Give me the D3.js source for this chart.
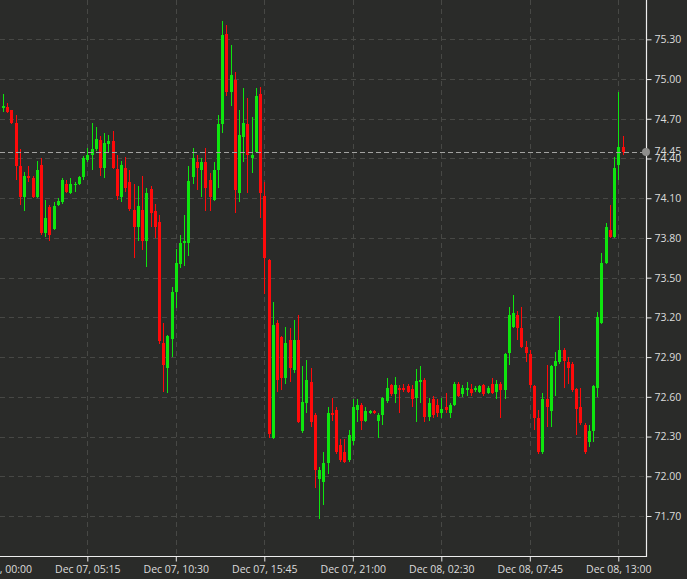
<!DOCTYPE html>
<html>
<head>
<meta charset="utf-8">
<script src="https://cdn.jsdelivr.net/npm/d3@7"></script>
<style>
html,body{margin:0;padding:0;background:#2a2b29;}
svg{display:block;}
</style>
</head>
<body>
<div id="chart"></div>
<script>
// 15-minute candles, index 1..148 (Dec 07 00:15 .. Dec 08 13:15)
const open = [74.78,74.79,74.77,74.67,74.34,74.11,74.27,74.25,74.11,74.35,
73.84,74.03,73.87,74.05,74.07,74.21,74.14,74.20,74.21,74.26,
74.39,74.43,74.47,74.54,74.33,74.51,74.53,74.32,74.11,74.33,
74.22,74.01,73.88,74.01,73.78,74.17,74.00,73.92,73.01,72.82,
73.04,73.39,73.60,73.76,73.76,74.26,74.37,74.31,74.37,74.24,
74.09,74.31,74.66,75.34,74.90,74.99,74.14,74.56,74.66,74.40,
74.45,74.89,74.12,73.63,72.29,73.16,73.05,72.74,73.03,72.80,
73.03,72.34,72.55,72.71,72.46,71.98,71.96,72.10,72.48,72.50,
72.24,72.18,72.12,72.27,72.50,72.54,72.42,72.48,72.49,72.42,
72.46,72.57,72.69,72.62,72.67,72.67,72.68,72.66,72.59,72.71,
72.73,72.45,72.58,72.54,72.48,72.52,72.48,72.54,72.70,72.62,
72.65,72.66,72.65,72.64,72.69,72.63,72.70,72.64,72.70,72.65,
72.93,73.13,73.22,73.12,72.98,72.92,72.68,72.44,72.18,72.58,
72.49,72.83,72.86,72.95,72.86,72.85,72.66,72.52,72.39,72.26,
72.34,72.67,73.16,73.61,73.86,73.81,74.35,74.49];
const close = [74.80,74.75,74.67,74.34,74.11,74.27,74.25,74.11,74.31,73.84,
73.95,73.82,74.04,74.08,74.24,74.15,74.21,74.21,74.26,74.40,
74.43,74.47,74.55,74.33,74.52,74.53,74.33,74.12,74.35,74.18,
74.02,73.88,74.04,73.78,74.14,73.99,73.88,73.02,72.84,73.06,
73.39,73.61,73.76,73.78,74.23,74.40,74.33,74.37,74.18,74.11,
74.31,74.66,75.33,74.90,75.03,74.16,74.58,74.67,74.43,74.43,
74.87,74.14,73.65,72.32,73.14,72.73,72.74,73.01,72.82,73.03,
72.41,72.56,72.73,72.41,72.05,72.05,72.10,72.48,72.46,72.18,
72.12,72.11,72.31,72.52,72.54,72.42,72.49,72.49,72.48,72.46,
72.59,72.67,72.62,72.69,72.65,72.65,72.64,72.58,72.72,72.73,
72.45,72.55,72.46,72.48,72.51,72.50,72.54,72.70,72.61,72.67,
72.67,72.63,72.67,72.68,72.62,72.67,72.63,72.70,72.65,72.92,
73.22,73.23,73.12,72.98,72.93,72.69,72.44,72.18,72.58,72.52,
72.83,72.87,72.95,72.87,72.82,72.65,72.51,72.40,72.18,72.34,
72.68,73.20,73.61,73.88,73.81,74.33,74.49,74.45];
const high = [74.89,74.82,74.77,74.73,74.47,74.30,74.34,74.27,74.38,74.40,
74.09,74.05,74.07,74.10,74.25,74.24,74.25,74.22,74.27,74.42,
74.48,74.67,74.64,74.57,74.59,74.58,74.61,74.43,74.38,74.41,
74.31,74.21,74.19,74.27,74.18,74.19,74.06,73.97,73.16,73.07,
73.43,73.72,73.82,73.97,74.34,74.48,74.43,74.40,74.48,74.29,
74.37,74.73,75.44,75.41,75.26,75.05,74.77,74.93,74.86,74.71,
74.93,74.94,74.22,73.64,73.32,73.18,73.06,73.13,73.12,73.18,
73.22,72.83,72.88,72.82,72.48,72.07,72.18,72.52,72.59,72.52,
72.28,72.28,72.35,72.58,72.58,72.55,72.52,72.50,72.50,72.48,
72.60,72.74,72.70,72.75,72.69,72.70,72.70,72.69,72.81,72.83,
72.74,72.59,72.61,72.58,72.59,72.63,72.55,72.71,72.71,72.69,
72.71,72.70,72.68,72.69,72.70,72.68,72.74,72.73,72.71,72.93,
73.28,73.37,73.25,73.28,73.02,72.95,72.69,72.50,72.63,72.84,
72.84,72.94,73.21,72.97,72.90,72.86,72.67,72.67,72.40,72.39,
72.69,73.24,73.69,73.91,74.05,74.41,74.90,74.57];
const low = [74.75,74.74,74.66,74.24,74.05,74.00,74.22,74.10,74.10,73.82,
73.81,73.78,73.86,74.04,74.06,74.14,74.13,74.15,74.20,74.24,
74.37,74.31,74.46,74.27,74.25,74.44,74.32,74.09,74.07,74.15,
74.00,73.65,73.78,73.71,73.58,73.88,73.80,73.00,72.64,72.63,
72.90,73.27,73.57,73.59,73.66,74.21,74.16,74.11,74.00,74.00,
74.08,74.18,74.59,74.87,74.80,73.99,74.07,74.37,74.14,74.29,
74.44,73.95,73.38,72.29,72.28,72.64,72.65,72.70,72.71,72.78,
72.40,72.33,72.48,72.37,71.91,71.68,71.78,72.02,72.42,72.17,
72.11,72.10,72.11,72.24,72.41,72.35,72.41,72.47,72.47,72.29,
72.39,72.55,72.61,72.55,72.48,72.64,72.63,72.52,72.41,72.55,
72.41,72.42,72.44,72.45,72.44,72.48,72.44,72.53,72.60,72.60,
72.61,72.61,72.64,72.63,72.61,72.62,72.62,72.58,72.44,72.58,
72.84,73.12,73.03,72.97,72.86,72.67,72.35,72.17,72.17,72.37,
72.37,72.61,72.85,72.67,72.70,72.64,72.31,72.39,72.17,72.22,
72.26,72.60,73.15,73.60,73.80,73.80,74.24,74.43];

const tickIndex = [0,21,42,63,84,105,126,147];
const tickLabels = ["Dec 07, 00:00","Dec 07, 05:15","Dec 07, 10:30","Dec 07, 15:45",
                    "Dec 07, 21:00","Dec 08, 02:30","Dec 08, 07:45","Dec 08, 13:00"];
const priceTicks = [71.70,72.00,72.30,72.60,72.90,73.20,73.50,73.80,74.10,74.40,74.70,75.00,75.30];
const lastPrice = 74.45;

const W = 687, H = 579;
const plotR = 646, plotB = 556;
const UP = "#0ee60e", DOWN = "#ff0a0a";
const FONT = "'Open Sans', 'Noto Sans', sans-serif";

const svg = d3.select("#chart").append("svg").attr("width", W).attr("height", H)
  .style("background", "#2a2b29");

const x = d3.scaleLinear().domain([0, 147]).range([-1.2, 618.3]);
const y = d3.scaleLinear().domain([71.398, 75.597]).range([plotB, 0]);

const data = open.map((o, i) => ({i: i + 1, o, c: close[i], h: high[i], l: low[i]}));

// grid
const grid = svg.append("g").attr("stroke", "#474845").attr("stroke-width", 1)
  .attr("stroke-dasharray", "5,4").attr("shape-rendering", "crispEdges");
grid.selectAll("line.h").data(priceTicks).join("line").attr("class", "h")
  .attr("x1", 0).attr("x2", plotR).attr("y1", d => Math.round(y(d)) + 0.5).attr("y2", d => Math.round(y(d)) + 0.5);
grid.selectAll("line.v").data(tickIndex).join("line").attr("class", "v")
  .attr("y1", 0).attr("y2", plotB).attr("x1", d => Math.round(x(d)) + 0.5).attr("x2", d => Math.round(x(d)) + 0.5);

// candles
const cg = svg.append("g").attr("shape-rendering", "crispEdges");
const candle = cg.selectAll("g").data(data).join("g");
candle.append("line")
  .attr("x1", d => Math.round(x(d.i)) + 0.5).attr("x2", d => Math.round(x(d.i)) + 0.5)
  .attr("y1", d => y(d.h)).attr("y2", d => y(d.l))
  .attr("stroke", d => d.c >= d.o ? UP : DOWN).attr("stroke-width", 1);
candle.append("rect")
  .attr("x", d => Math.round(x(d.i)) - 1)
  .attr("width", 3)
  .attr("y", d => y(Math.max(d.o, d.c)))
  .attr("height", d => Math.max(1.2, Math.abs(y(d.o) - y(d.c))))
  .attr("fill", d => d.c >= d.o ? UP : DOWN);

// last price line
svg.append("line").attr("x1", 0).attr("x2", plotR)
  .attr("y1", Math.round(y(lastPrice)) + 0.5).attr("y2", Math.round(y(lastPrice)) + 0.5)
  .attr("stroke", "#a3a3a1").attr("stroke-width", 1).attr("stroke-dasharray", "5,3")
  .attr("shape-rendering", "crispEdges");

// axes
const yAxis = d3.axisRight(y).tickValues(priceTicks).tickFormat(d3.format(".2f"))
  .tickSize(5).tickSizeOuter(0).tickPadding(3);
const ya = svg.append("g").attr("transform", `translate(${plotR + 0.5},0)`).call(yAxis);
ya.select(".domain").remove();
ya.selectAll("line").attr("stroke", "#e8e8e8");
ya.selectAll("text").attr("fill", "#dcdcdc").style("font-family", FONT).style("font-size", "10.5px");

const xAxis = d3.axisBottom(x).tickValues(tickIndex).tickFormat((d, k) => tickLabels[k])
  .tickSize(5).tickSizeOuter(0).tickPadding(4);
const xa = svg.append("g").attr("transform", `translate(0,${plotB + 0.5})`).call(xAxis);
xa.select(".domain").remove();
xa.selectAll("line").attr("stroke", "#e8e8e8");
xa.selectAll("text").attr("fill", "#dcdcdc").style("font-family", FONT).style("font-size", "10.5px");

svg.append("line").attr("x1", plotR + 0.5).attr("x2", plotR + 0.5).attr("y1", 0).attr("y2", plotB + 1)
  .attr("stroke", "#eeeeee").attr("stroke-width", 1.2);
svg.append("line").attr("x1", 0).attr("x2", plotR + 1).attr("y1", plotB + 0.5).attr("y2", plotB + 0.5)
  .attr("stroke", "#eeeeee").attr("stroke-width", 1.2);

// last price marker and label
svg.append("circle").attr("cx", plotR).attr("cy", y(lastPrice)).attr("r", 4)
  .attr("fill", "#8e8e8c");
svg.append("text").attr("x", plotR + 8.5).attr("y", y(lastPrice)).attr("dy", "0.32em")
  .attr("fill", "#dcdcdc").style("font-family", FONT).style("font-size", "10.5px")
  .text(d3.format(".2f")(lastPrice));
</script>
</body>
</html>
